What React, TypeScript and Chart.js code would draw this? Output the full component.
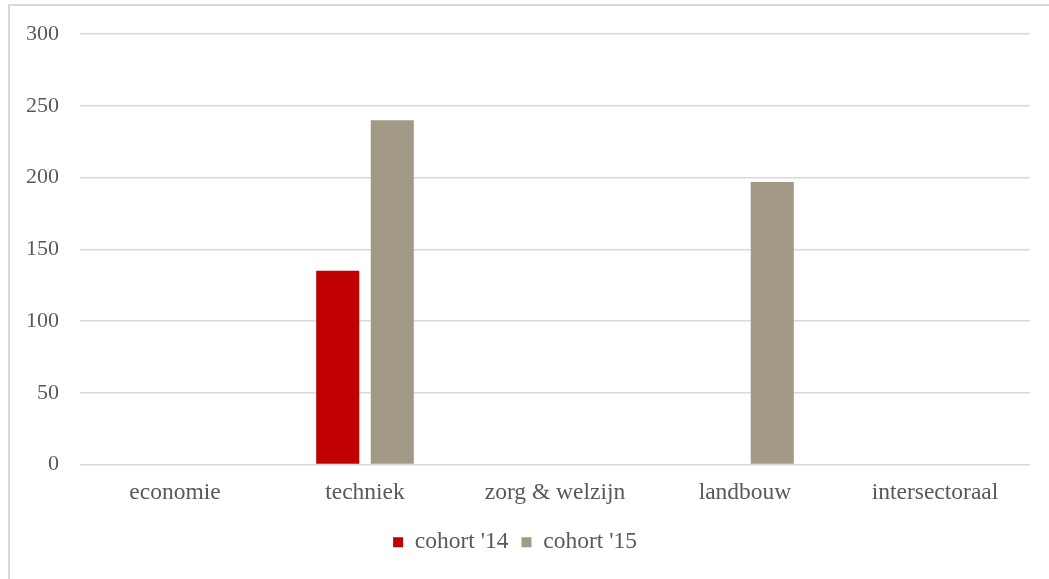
import React, { useEffect, useRef } from "react";
import { Chart, registerables } from "chart.js";

Chart.register(...registerables);

const categories = ["economie", "techniek", "zorg & welzijn", "landbouw", "intersectoraal"];
const cohort14 = [0, 135, 0, 0, 0];
const cohort15 = [0, 240, 0, 197, 0];
const seriesLabels = ["cohort '14", "cohort '15"];
const yTicks = [0, 50, 100, 150, 200, 250, 300];

const FONT = "'Liberation Serif', 'Times New Roman', serif";
const TEXT = "#595959";

export default function App() {
  const ref = useRef<HTMLCanvasElement | null>(null);

  useEffect(() => {
    document.body.style.margin = "0";
    document.body.style.overflow = "hidden";
    const canvas = ref.current;
    if (!canvas) return;
    const chart = new Chart(canvas, {
      type: "bar",
      data: {
        labels: categories,
        datasets: [
          {
            label: seriesLabels[0],
            data: cohort14,
            backgroundColor: "#C00000",
            borderWidth: 0,
            categoryPercentage: 0.574,
            barPercentage: 0.79,
          },
          {
            label: seriesLabels[1],
            data: cohort15,
            backgroundColor: "#A29A86",
            borderWidth: 0,
            categoryPercentage: 0.574,
            barPercentage: 0.79,
          },
        ],
      },
      options: {
        animation: false,
        responsive: false,
        devicePixelRatio: 1,
        layout: { padding: { top: 34, right: 19, left: 0, bottom: 15 } },
        plugins: {
          tooltip: { enabled: false },
          legend: {
            position: "bottom",
            labels: {
              boxWidth: 10,
              boxHeight: 10,
              padding: 13,
              color: TEXT,
              font: { family: FONT, size: 23.5 },
            },
          },
        },
        scales: {
          x: {
            grid: { display: false },
            border: { display: false },
            ticks: {
              color: TEXT,
              font: { family: FONT, size: 23.5 },
              padding: 6,
              maxRotation: 0,
            },
            afterFit: (s: any) => {
              s.height = 53;
            },
          },
          y: {
            min: 0,
            max: 300,
            afterBuildTicks: (s: any) => {
              s.ticks = yTicks.map((v) => ({ value: v }));
            },
            grid: { color: "#d9d9d9", lineWidth: 1.5, drawTicks: false },
            border: { display: false },
            ticks: {
              color: TEXT,
              font: { family: FONT, size: 22 },
              padding: 21,
            },
            afterFit: (s: any) => {
              s.width = 80;
            },
          },
        },
      },
    });
    return () => chart.destroy();
  }, []);

  return (
    <div style={{ position: "relative", width: 1049, height: 579, overflow: "hidden" }}>
      <div
        style={{
          position: "absolute",
          left: 8,
          top: 4,
          width: 1100,
          height: 700,
          border: "2px solid #d9d9d9",
          boxSizing: "border-box",
        }}
      />
      <canvas
        ref={ref}
        width={1049}
        height={579}
        style={{ position: "absolute", left: 0, top: 0, width: 1049, height: 579 }}
      />
    </div>
  );
}
